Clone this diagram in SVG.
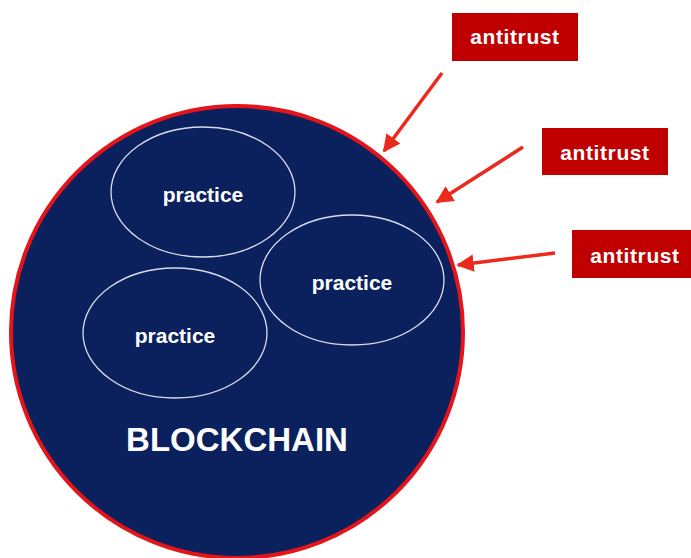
<svg xmlns="http://www.w3.org/2000/svg" width="691" height="558" viewBox="0 0 691 558">
<style>
.bg{fill:#ffffff}
.main{fill:#0a215e;stroke:#e3141a;stroke-width:4}
.prac{fill:none;stroke:#d8dcea;stroke-width:1.3}
.pt{font-family:"Liberation Sans",Arial,sans-serif;font-weight:bold;font-size:21px;fill:#ffffff;text-anchor:middle}
.bt{font-family:"Liberation Sans",Arial,sans-serif;font-weight:bold;font-size:33px;fill:#ffffff;text-anchor:middle}
.box{fill:#c00000}
.at{font-family:"Liberation Sans",Arial,sans-serif;font-weight:bold;font-size:21px;letter-spacing:0.6px;fill:#ffffff;text-anchor:middle}
.arr{stroke:#ec2a1c;stroke-width:3.5;fill:none;marker-end:url(#ah)}
</style>
<defs>
<marker id="ah" viewBox="0 0 10 10" refX="9" refY="5" markerWidth="5" markerHeight="5" orient="auto" markerUnits="strokeWidth">
<path d="M0,0 L10,5 L0,10 z" fill="#ec2a1c"/>
</marker>
</defs>
<rect class="bg" x="0" y="0" width="691" height="558"/>
<g id="blockchain">
<circle class="main" cx="237" cy="332" r="226"/>
<text class="bt" x="237" y="451">BLOCKCHAIN</text>
</g>
<g id="practice1">
<ellipse class="prac" cx="203" cy="192" rx="92" ry="65"/>
<text class="pt" x="203" y="202">practice</text>
</g>
<g id="practice2">
<ellipse class="prac" cx="352" cy="280" rx="92" ry="65"/>
<text class="pt" x="352" y="290">practice</text>
</g>
<g id="practice3">
<ellipse class="prac" cx="175" cy="333" rx="92" ry="65"/>
<text class="pt" x="175" y="343">practice</text>
</g>
<g id="antitrust1">
<rect class="box" x="452" y="13" width="126" height="48"/>
<text class="at" x="515" y="44">antitrust</text>
</g>
<g id="antitrust2">
<rect class="box" x="542" y="128" width="126" height="47"/>
<text class="at" x="605" y="160">antitrust</text>
</g>
<g id="antitrust3">
<rect class="box" x="572" y="230" width="125" height="48"/>
<text class="at" x="635" y="263">antitrust</text>
</g>
<g id="connectors">
<line class="arr" x1="442" y1="73" x2="384" y2="151"/>
<line class="arr" x1="523" y1="147" x2="437" y2="202"/>
<line class="arr" x1="555" y1="253" x2="458" y2="265"/>
</g>
</svg>
